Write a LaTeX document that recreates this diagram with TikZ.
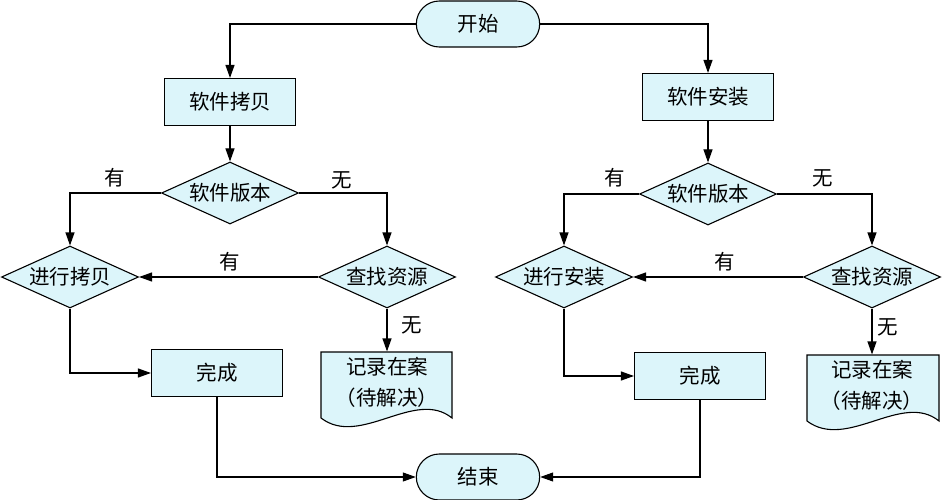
\documentclass[tikz,border=0pt]{standalone}
\usepackage{fontspec}
\setmainfont{Noto Sans CJK SC}
\usetikzlibrary{shapes.geometric,shapes.misc,arrows.meta}
\definecolor{boxfill}{RGB}{220,245,250}
\tikzset{
	term/.style={rounded rectangle,draw,fill=boxfill,minimum width=130pt,minimum height=46pt},
	proc/.style={rectangle,draw,fill=boxfill,minimum width=131pt,minimum height=47pt},
	dec/.style={diamond,aspect=2.2,draw,fill=boxfill,minimum width=137pt,minimum height=62pt,inner sep=0pt},
	doc/.style={minimum width=131pt,minimum height=60pt,inner sep=0pt,align=center},
	lab/.style={inner sep=1pt},
	arr/.style={-{Triangle[length=13pt,width=9pt]}}
}
\begin{document}
\begin{tikzpicture}[x=1pt,y=-1pt,line width=1.1pt,font=\fontsize{20.5}{31}\selectfont]
	\useasboundingbox (0,0) rectangle (943,500);
	\node [term] (start) at (478,24) {开始};
	\node [term] (end) at (478,477) {结束};

	\node [proc] (c1) at (230,102) {软件拷贝};
	\node [dec] (v1) at (230,193) {软件版本};
	\node [dec] (y1) at (70,277) {进行拷贝};
	\node [dec] (s1) at (387,277) {查找资源};
	\node [proc] (d1) at (217,373) {完成};
	\draw [fill=boxfill] (321,352) -- (452,352) -- (452,418) .. controls (415,388) and (360,448) .. (321,418) -- cycle;
	\node [doc] (r1) at (387,382) {记录在案\\（待解决）};

	\node [proc] (c2) at (708,97) {软件安装};
	\node [dec] (v2) at (708,194) {软件版本};
	\node [dec] (y2) at (564,277) {进行安装};
	\node [dec] (s2) at (872,277) {查找资源};
	\node [proc] (d2) at (700,376) {完成};
	\draw [fill=boxfill] (807,355) -- (939,355) -- (939,421) .. controls (902,391) and (847,451) .. (807,421) -- cycle;
	\node [doc] (r2) at (872,385) {记录在案\\（待解决）};

	\node [lab] (a1) at (115,178) {有};
	\node [lab] (b1) at (342,180) {无};
	\node [lab] (a2) at (230,262) {有};
	\node [lab] (b2) at (412,325) {无};
	\node [lab] (a3) at (615,178) {有};
	\node [lab] (b3) at (823,178) {无};
	\node [lab] (a4) at (725,262) {有};
	\node [lab] (b4) at (888,327) {无};

	\draw [arr] (start.west) -| (c1.north);
	\draw [arr] (c1) -- (v1);
	\draw [arr] (v1.west) -| (y1.north);
	\draw [arr] (v1.east) -| (s1.north);
	\draw [arr] (s1.west) -- (y1.east);
	\draw [arr] (s1.south) -- (r1.north);
	\draw [arr] (y1.south) |- (d1.west);
	\draw [arr] (d1.south) |- (end.west);

	\draw [arr] (start.east) -| (c2.north);
	\draw [arr] (c2) -- (v2);
	\draw [arr] (v2.west) -| (y2.north);
	\draw [arr] (v2.east) -| (s2.north);
	\draw [arr] (s2.west) -- (y2.east);
	\draw [arr] (s2.south) -- (r2.north);
	\draw [arr] (y2.south) |- (d2.west);
	\draw [arr] (d2.south) |- (end.east);
\end{tikzpicture}
\end{document}
